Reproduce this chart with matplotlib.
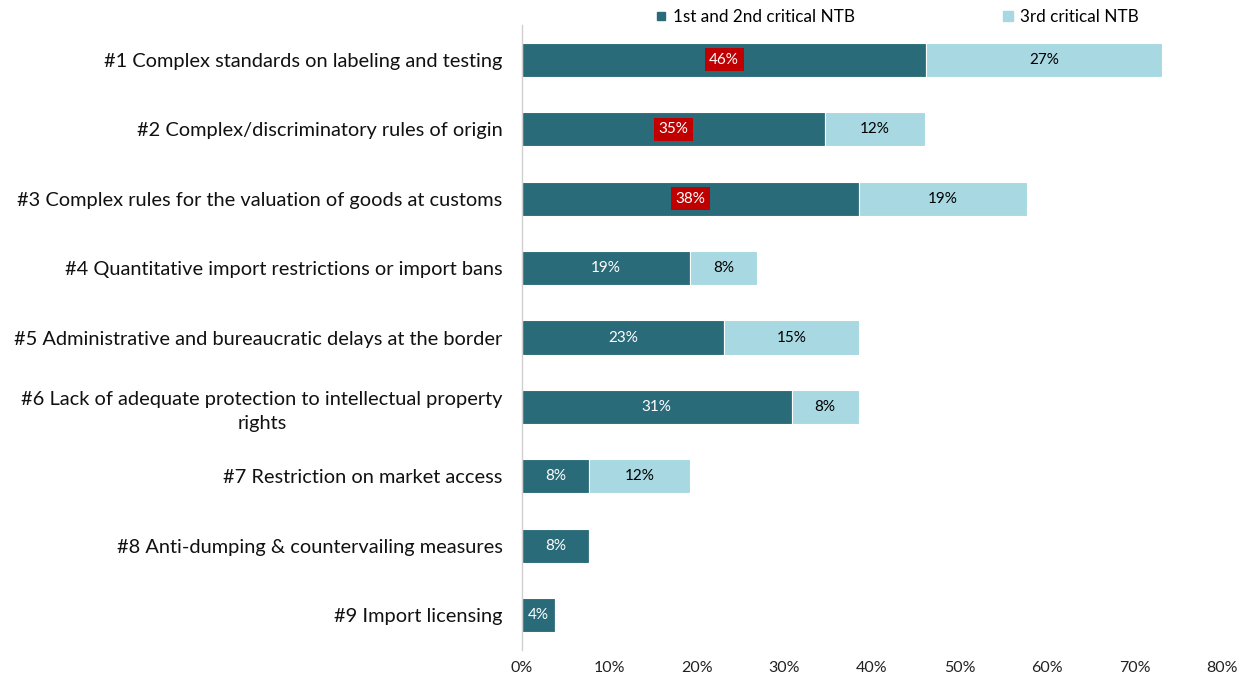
import matplotlib
matplotlib.use("Agg")
import matplotlib.pyplot as plt
from matplotlib.lines import Line2D

categories = [
    "#1 Complex standards on labeling and testing",
    "#2 Complex/discriminatory rules of origin",
    "#3 Complex rules for the valuation of goods at customs",
    "#4 Quantitative import restrictions or import bans",
    "#5 Administrative and bureaucratic delays at the border",
    "#6 Lack of adequate protection to intellectual property\nrights",
    "#7 Restriction on market access",
    "#8 Anti-dumping & countervailing measures",
    "#9 Import licensing",
]
first_second = [46.2, 34.6, 38.5, 19.2, 23.1, 30.8, 7.7, 7.7, 3.8]
third = [26.9, 11.5, 19.2, 7.7, 15.4, 7.7, 11.5, 0, 0]
highlight = [True, True, True, False, False, False, False, False, False]
series_names = ["1st and 2nd critical NTB", "3rd critical NTB"]
xticks = [0, 10, 20, 30, 40, 50, 60, 70, 80]

dark = "#2a6b7a"
light = "#a8d8e2"
red = "#c00000"

plt.rcParams['font.family'] = ['Lato', 'DejaVu Sans']

fig = plt.figure(figsize=(12.49, 6.81), dpi=100)
ax = fig.add_axes([522/1249, 1 - 650/681, 700/1249, 625/681])

y = list(range(len(categories)))
ax.barh(y, first_second, height=0.49, color=dark, edgecolor="white", linewidth=0.8)
ax.barh(y, third, left=first_second, height=0.49, color=light, edgecolor="white", linewidth=0.8)

for i, (a, b) in enumerate(zip(first_second, third)):
    if a > 0:
        if highlight[i]:
            ax.text(a / 2, i, f"{a:.0f}%", ha="center", va="center", color="white", fontsize=11,
                    bbox=dict(boxstyle="square,pad=0.3", facecolor=red, edgecolor="none"))
        else:
            ax.text(a / 2, i, f"{a:.0f}%", ha="center", va="center", color="white", fontsize=11)
    if b > 0:
        ax.text(a + b / 2, i, f"{b:.0f}%", ha="center", va="center", color="black", fontsize=11)

ax.set_ylim(len(categories) - 0.5, -0.5)
ax.set_xlim(0, 80)
ax.set_xticks(xticks)
ax.set_xticklabels([f"{t}%" for t in xticks], fontsize=11.5, color="#222222")
ax.set_yticks(y)
ax.set_yticklabels(categories, fontsize=14.4, color="#111111", multialignment="center",
                   linespacing=1.45)
ax.tick_params(axis="both", length=0)
ax.tick_params(axis="y", pad=14)
ax.tick_params(axis="x", pad=8)
for s in ["top", "right", "bottom"]:
    ax.spines[s].set_visible(False)
ax.spines["left"].set_color("#d0d0d0")
ax.spines["left"].set_linewidth(1)

handles = [Line2D([], [], marker="s", linestyle="none", color=dark, markersize=6),
           Line2D([], [], marker="s", linestyle="none", color=light, markersize=7)]
ax.legend(handles, series_names, loc="center", bbox_to_anchor=(0.535, 1.013), ncol=2,
          frameon=False, fontsize=12.3, columnspacing=8.6, handletextpad=0.3, handlelength=0.8)

fig.savefig("out.png", dpi=100)
